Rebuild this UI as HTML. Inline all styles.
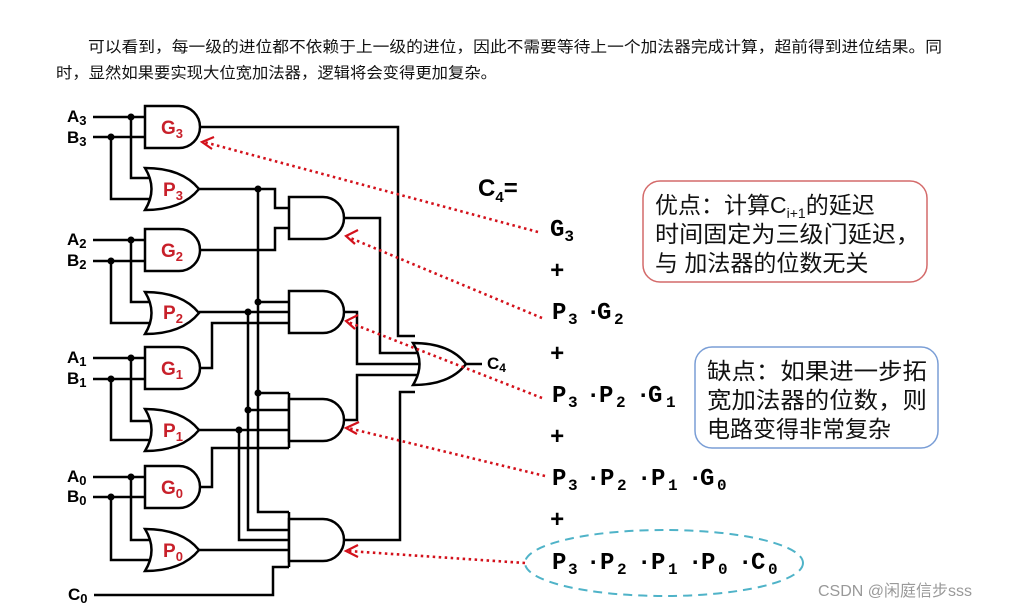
<!DOCTYPE html>
<html><head><meta charset="utf-8"><style>
html,body{margin:0;padding:0;background:#fff;width:1014px;height:609px;overflow:hidden}
svg{display:block}
.w{fill:none;stroke:#000;stroke-width:2.5}
.g{fill:#fff;stroke:#000;stroke-width:2.5}
.gl{font-family:"Liberation Sans",sans-serif;font-weight:bold;fill:#c8202a;font-size:19px}
.il{font-family:"Liberation Sans",sans-serif;font-weight:bold;fill:#000;font-size:17px}
.f{font-family:"Liberation Mono",monospace;font-weight:bold;font-size:24px;fill:#000}
.fs{font-size:16px}
.cj{font-family:"Liberation Sans","Noto Sans CJK SC",sans-serif;fill:#111}
.r{fill:none;stroke:#d3111b;stroke-width:2.6;stroke-dasharray:2.5 3.5}
.rh{fill:none;stroke:#d3111b;stroke-width:2.2}
</style></head><body>
<svg width="1014" height="609" viewBox="0 0 1014 609">
<text class="cj" x="88" y="52" font-size="15.5" textLength="854" lengthAdjust="spacingAndGlyphs">可以看到，每一级的进位都不依赖于上一级的进位，因此不需要等待上一个加法器完成计算，超前得到进位结果。同</text>
<text class="cj" x="56" y="78" font-size="15.5" textLength="441" lengthAdjust="spacingAndGlyphs">时，显然如果要实现大位宽加法器，逻辑将会变得更加复杂。</text>

<g class="w">
<path d="M93,117H145M93,137H145M131,117V178H150M111,137V199H150"/>
<path d="M93,240H145M93,261H145M131,240V302H150M111,261V323H150"/>
<path d="M93,358H145M93,379H145M131,358V421H150M111,379V440H150"/>
<path d="M93,477H145M93,497H145M131,477V540H150M111,497V560H150"/>
<path d="M200,127H398V336H415"/>
<path d="M199,189H275V208H289M258,189V512H289"/>
<path d="M199,250H275V228H289"/>
<path d="M344,218H380V353H419"/>
<path d="M199,312H289M248,312V530H289M258,302H289M258,393H289M248,410H289"/>
<path d="M199,368H212V323H289"/>
<path d="M344,312H357V364H420"/>
<path d="M199,430H289M239,430V540H289"/>
<path d="M199,487H212V448H289"/>
<path d="M344,420H357V375H420"/>
<path d="M289,393V448M289,512V567M199,550H289M94,595H273V567H289"/>
<path d="M344,540H400V392H415"/>
<path d="M466,364H482"/>
</g>
<g fill="#000">
<circle cx="131" cy="117" r="3.5"/><circle cx="111" cy="137" r="3.5"/>
<circle cx="131" cy="240" r="3.5"/><circle cx="111" cy="261" r="3.5"/>
<circle cx="131" cy="358" r="3.5"/><circle cx="111" cy="379" r="3.5"/>
<circle cx="131" cy="477" r="3.5"/><circle cx="111" cy="497" r="3.5"/>
<circle cx="258" cy="189" r="3.5"/><circle cx="258" cy="302" r="3.5"/><circle cx="258" cy="393" r="3.5"/>
<circle cx="248" cy="312" r="3.5"/><circle cx="248" cy="410" r="3.5"/>
<circle cx="239" cy="430" r="3.5"/>
</g>
<g class="g">
<path d="M145,106H179A21,21 0 0 1 179,148H145Z"/>
<path d="M145,229H179A21,21 0 0 1 179,271H145Z"/>
<path d="M145,347H179A21,21 0 0 1 179,389H145Z"/>
<path d="M145,466H179A21,21 0 0 1 179,508H145Z"/>
<path d="M289,197H323A21,21 0 0 1 323,239H289Z"/>
<path d="M289,291H323A21,21 0 0 1 323,333H289Z"/>
<path d="M289,399H323A21,21 0 0 1 323,441H289Z"/>
<path d="M289,519H323A21,21 0 0 1 323,561H289Z"/>
<path d="M145,168Q182,168 199,189Q182,210 145,210Q158,189 145,168Z"/>
<path d="M145,292Q182,292 199,313Q182,334 145,334Q158,313 145,292Z"/>
<path d="M145,409Q182,409 199,430Q182,451 145,451Q158,430 145,409Z"/>
<path d="M145,529Q182,529 199,550Q182,571 145,571Q158,550 145,529Z"/>
<path d="M413,343Q450,343 466,364Q450,385 413,385Q426,364 413,343Z"/>
</g>
<g class="gl">
<text x="161" y="134">G<tspan font-size="13" dy="4">3</tspan></text>
<text x="161" y="257">G<tspan font-size="13" dy="4">2</tspan></text>
<text x="161" y="375">G<tspan font-size="13" dy="4">1</tspan></text>
<text x="161" y="494">G<tspan font-size="13" dy="4">0</tspan></text>
<text x="163" y="196">P<tspan font-size="13" dy="4">3</tspan></text>
<text x="163" y="319">P<tspan font-size="13" dy="4">2</tspan></text>
<text x="163" y="437">P<tspan font-size="13" dy="4">1</tspan></text>
<text x="163" y="557">P<tspan font-size="13" dy="4">0</tspan></text>
</g>
<g class="il">
<text x="67" y="122">A<tspan font-size="13" dy="3">3</tspan></text>
<text x="67" y="143">B<tspan font-size="13" dy="3">3</tspan></text>
<text x="67" y="245">A<tspan font-size="13" dy="3">2</tspan></text>
<text x="67" y="266">B<tspan font-size="13" dy="3">2</tspan></text>
<text x="67" y="363">A<tspan font-size="13" dy="3">1</tspan></text>
<text x="67" y="384">B<tspan font-size="13" dy="3">1</tspan></text>
<text x="67" y="482">A<tspan font-size="13" dy="3">0</tspan></text>
<text x="67" y="502">B<tspan font-size="13" dy="3">0</tspan></text>
<text x="68" y="600">C<tspan font-size="13" dy="3">0</tspan></text>
<text x="487" y="369">C<tspan font-size="12" dy="3">4</tspan></text>
</g>

<path class="r" d="M538,232L204,142"/>
<path class="rh" d="M214,137L202,142L212,149"/>
<path class="r" d="M542,318L348,237"/>
<path class="rh" d="M358,230L346,236L355,244"/>
<path class="r" d="M542,398L348,322"/>
<path class="rh" d="M358,315L346,321L355,329"/>
<path class="r" d="M545,476L348,428"/>
<path class="rh" d="M359,422L346,428L357,434"/>
<path class="r" d="M525,563L348,551"/>
<path class="rh" d="M358,545L346,551L358,557"/>

<text x="478" y="196" font-family="Liberation Sans,sans-serif" font-weight="bold" font-size="24">C<tspan font-size="15" dy="6">4</tspan><tspan dy="-6">=</tspan></text>
<text class="f" x="550" y="236">G<tspan class="fs" dy="5">3</tspan></text>
<text class="f" x="550" y="278">+</text>
<text class="f" y="319"><tspan x="552">P</tspan><tspan class="fs" x="568" dy="5">3</tspan><tspan x="586" dy="-5">·</tspan><tspan x="597">G</tspan><tspan class="fs" x="614" dy="5">2</tspan></text>
<text class="f" x="550" y="361">+</text>
<text class="f" y="402"><tspan x="552">P</tspan><tspan class="fs" x="568" dy="5">3</tspan><tspan x="586" dy="-5">·</tspan><tspan x="599">P</tspan><tspan class="fs" x="616" dy="5">2</tspan><tspan x="636" dy="-5">·</tspan><tspan x="648">G</tspan><tspan class="fs" x="666" dy="5">1</tspan></text>
<text class="f" x="550" y="444">+</text>
<text class="f" y="485"><tspan x="552">P</tspan><tspan class="fs" x="568" dy="5">3</tspan><tspan x="586" dy="-5">·</tspan><tspan x="600">P</tspan><tspan class="fs" x="617" dy="5">2</tspan><tspan x="637" dy="-5">·</tspan><tspan x="651">P</tspan><tspan class="fs" x="668" dy="5">1</tspan><tspan x="688" dy="-5">·</tspan><tspan x="700">G</tspan><tspan class="fs" x="717" dy="5">0</tspan></text>
<text class="f" x="550" y="527">+</text>
<text class="f" y="569"><tspan x="552">P</tspan><tspan class="fs" x="568" dy="5">3</tspan><tspan x="586" dy="-5">·</tspan><tspan x="600">P</tspan><tspan class="fs" x="617" dy="5">2</tspan><tspan x="637" dy="-5">·</tspan><tspan x="651">P</tspan><tspan class="fs" x="668" dy="5">1</tspan><tspan x="688" dy="-5">·</tspan><tspan x="701">P</tspan><tspan class="fs" x="718" dy="5">0</tspan><tspan x="738" dy="-5">·</tspan><tspan x="751">C</tspan><tspan class="fs" x="768" dy="5">0</tspan></text>
<ellipse cx="664" cy="563" rx="139" ry="33" fill="none" stroke="#4fb3c8" stroke-width="2" stroke-dasharray="9 6"/>

<rect x="643" y="181" width="284" height="101" rx="17" fill="#fff" stroke="#d46a6a" stroke-width="1.5"/>
<text class="cj" x="655" y="213" font-size="23">优点：计算C<tspan font-size="14" dy="5">i+1</tspan><tspan dy="-5">的延迟</tspan></text>
<text class="cj" x="655" y="242" font-size="23" textLength="265" lengthAdjust="spacingAndGlyphs">时间固定为三级门延迟，</text>
<text class="cj" x="655" y="271" font-size="23">与  加法器的位数无关</text>
<rect x="695" y="347" width="243" height="101" rx="17" fill="#fff" stroke="#7a9ed6" stroke-width="1.5"/>
<text class="cj" x="707" y="379" font-size="23" textLength="220" lengthAdjust="spacingAndGlyphs">缺点：如果进一步拓</text>
<text class="cj" x="707" y="408" font-size="23" textLength="220" lengthAdjust="spacingAndGlyphs">宽加法器的位数，则</text>
<text class="cj" x="707" y="437" font-size="23">电路变得非常复杂</text>

<text x="818" y="596" font-family="Liberation Sans,'Noto Sans CJK SC',sans-serif" font-size="16" fill="#999">CSDN @闲庭信步sss</text>
</svg>
</body></html>
